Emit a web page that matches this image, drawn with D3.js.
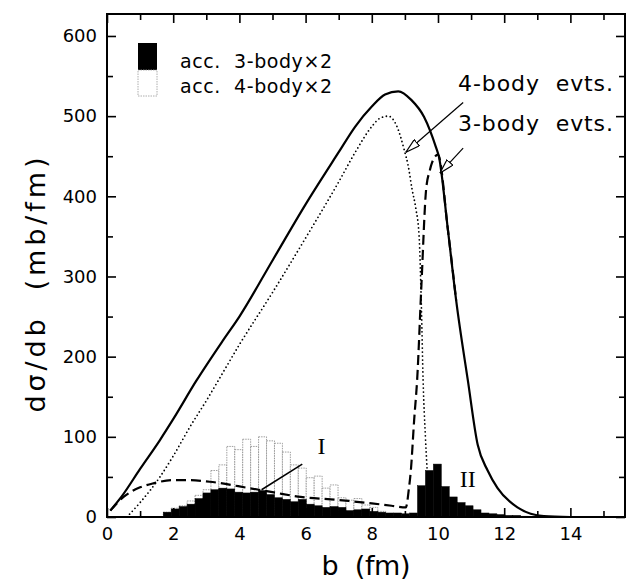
<!DOCTYPE html>
<html>
<head>
<meta charset="utf-8">
<script src="https://cdn.jsdelivr.net/npm/d3@7"></script>
<style>
  body { margin: 0; background: #fff; }
  text { font-family: "DejaVu Sans", "Liberation Sans", sans-serif; fill: #000; }
</style>
</head>
<body>
<div id="chart"></div>
<script>
// curves: [b (fm), dsigma/db (mb/fm)]
const totalCurve = [[0.1,8],[0.45,26],[1.0,60],[1.6,96],[2.0,122],[2.7,170],[3.5,220],[4.0,250],[5.0,320],
  [6.0,390],[7.0,455],[7.5,487],[8.0,512],[8.4,527],[8.8,531],[9.2,520],[9.58,499],[9.94,461],[10.03,449],
  [10.3,358],[10.55,270],[10.9,171],[11.2,90],[11.5,58],[11.8,36],[12.4,12],[12.8,4],[13.2,1],[14.0,0]];

const fourBodyCurve = [[0.6,0],[1.0,18],[1.6,50],[2.0,76],[2.5,112],[3.0,145],[3.33,168],[4.0,215],[5.0,280],
  [6.0,348],[7.0,418],[7.5,455],[8.0,487],[8.23,497],[8.5,500],[8.75,488],[8.98,458],[9.1,438],[9.22,408],
  [9.33,385],[9.43,350],[9.5,260],[9.55,171],[9.62,100],[9.67,60]];

const threeBodyCurve = [[0.1,8],[0.5,25],[1.0,37],[1.4,42],[2.0,46],[2.5,46],[3.1,44],[4.3,36],[5.0,31],
  [5.85,25],[6.76,22],[7.3,20],[8.0,17],[8.6,14],[9.03,12],[9.12,35],[9.18,58],[9.28,121],[9.37,171],
  [9.5,290],[9.64,408],[9.75,432],[9.82,442],[10.0,452],[10.3,358],[10.55,270]];

// accepted-event histograms (x2), equal bins starting at histStart
const histStart = 1.7;
const binWidth = 0.24;
const acc3body = [6,10,13,16,23,30,34,36,35,31,30,31,33,28,24,22,19,22,16,14,12,13,12,8,9,10,7,6,5,5,4,5,
  39,58,66,38,25,18,14,9,5,4,3,2,2,1];
const acc4body = [6,11,14,20,27,34,58,65,88,84,97,88,100,95,92,81,65,61,49,51,36,40,24,21,23,15,12,7,4,2];

const xMajor = [0,2,4,6,8,10,12,14];
const xMinor = [1,3,5,7,9,11,13,15];
const yMajor = [0,100,200,300,400,500,600];
const yMinor = [50,150,250,350,450,550];

const W = 629, H = 588;
const x = d3.scaleLinear().domain([0, 15.65]).range([107, 625]);
const y = d3.scaleLinear().domain([0, 627.4]).range([517, 14]);

const svg = d3.select("#chart").append("svg").attr("width", W).attr("height", H);

// histograms: 4-body (open) under 3-body (filled)
const bins = (vals) => vals.map((v, i) => ({ b0: histStart + i * binWidth, b1: histStart + (i + 1) * binWidth, v }))
  .filter(d => d.v > 0);

svg.append("g").selectAll("rect").data(bins(acc4body)).join("rect")
  .attr("x", d => x(d.b0)).attr("width", d => x(d.b1) - x(d.b0))
  .attr("y", d => y(d.v)).attr("height", d => y(0) - y(d.v))
  .attr("fill", "#fff").attr("stroke", "#888").attr("stroke-width", 0.8).attr("stroke-dasharray", "1.5,1");

svg.append("g").selectAll("rect").data(bins(acc3body)).join("rect")
  .attr("x", d => x(d.b0)).attr("width", d => x(d.b1) - x(d.b0))
  .attr("y", d => y(d.v)).attr("height", d => y(0) - y(d.v))
  .attr("fill", "#000").attr("stroke", "#000").attr("stroke-width", 0.5);

// curves
const line = d3.line().x(d => x(d[0])).y(d => y(d[1])).curve(d3.curveMonotoneX);
svg.append("path").attr("d", line(fourBodyCurve)).attr("fill", "none").attr("stroke", "#000")
  .attr("stroke-width", 1.8).attr("stroke-linecap", "round").attr("stroke-dasharray", "0,4");
svg.append("path").attr("d", line(threeBodyCurve)).attr("fill", "none").attr("stroke", "#000")
  .attr("stroke-width", 2.2).attr("stroke-dasharray", "10,5");
svg.append("path").attr("d", line(totalCurve)).attr("fill", "none").attr("stroke", "#000")
  .attr("stroke-width", 2.2);

// frame + ticks (all inward)
const axisStyle = g => {
  g.select(".domain").remove();
  g.selectAll("line").attr("stroke", "#000").attr("stroke-width", 1.6);
  g.selectAll("text").style("font-size", "18px").attr("fill", "#000");
};
svg.append("g").attr("transform", "translate(0,517)")
  .call(d3.axisBottom(x).tickValues(xMajor).tickSizeInner(-9).tickSizeOuter(0).tickPadding(10)).call(axisStyle);
svg.append("g").attr("transform", "translate(0,517)")
  .call(d3.axisBottom(x).tickValues(xMinor).tickSizeInner(-6).tickSizeOuter(0).tickFormat("")).call(axisStyle);
svg.append("g").attr("transform", "translate(0,14)")
  .call(d3.axisTop(x).tickValues(xMajor).tickSizeInner(-9).tickSizeOuter(0).tickFormat("")).call(axisStyle);
svg.append("g").attr("transform", "translate(0,14)")
  .call(d3.axisTop(x).tickValues(xMinor).tickSizeInner(-6).tickSizeOuter(0).tickFormat("")).call(axisStyle);
svg.append("g").attr("transform", "translate(107,0)")
  .call(d3.axisLeft(y).tickValues(yMajor).tickSizeInner(-9).tickSizeOuter(0).tickPadding(10)).call(axisStyle);
svg.append("g").attr("transform", "translate(107,0)")
  .call(d3.axisLeft(y).tickValues(yMinor).tickSizeInner(-6).tickSizeOuter(0).tickFormat("")).call(axisStyle);
svg.append("g").attr("transform", "translate(625,0)")
  .call(d3.axisRight(y).tickValues(yMajor).tickSizeInner(-9).tickSizeOuter(0).tickFormat("")).call(axisStyle);
svg.append("g").attr("transform", "translate(625,0)")
  .call(d3.axisRight(y).tickValues(yMinor).tickSizeInner(-6).tickSizeOuter(0).tickFormat("")).call(axisStyle);

svg.append("rect").attr("x", 107).attr("y", 14).attr("width", 518).attr("height", 503)
  .attr("fill", "none").attr("stroke", "#000").attr("stroke-width", 2);

// axis titles
svg.append("text").attr("x", 366).attr("y", 575).attr("text-anchor", "middle")
  .style("font-size", "27px").attr("textLength", 89).attr("lengthAdjust", "spacing")
  .attr("xml:space", "preserve").text("b  (fm)");
svg.append("text").attr("transform", "translate(45,285) rotate(-90)").attr("text-anchor", "middle")
  .style("font-size", "27px").attr("textLength", 255).attr("lengthAdjust", "spacing")
  .attr("xml:space", "preserve").text("dσ/db  (mb/fm)");

// legend
svg.append("rect").attr("x", 138).attr("y", 43).attr("width", 19).attr("height", 27).attr("fill", "#000");
svg.append("rect").attr("x", 138).attr("y", 70).attr("width", 19).attr("height", 26)
  .attr("fill", "#fff").attr("stroke", "#999").attr("stroke-width", 0.8).attr("stroke-dasharray", "1.5,1");
svg.append("text").attr("x", 180).attr("y", 68).style("font-size", "19px")
  .attr("textLength", 152).attr("lengthAdjust", "spacing").attr("xml:space", "preserve").text("acc.  3-body×2");
svg.append("text").attr("x", 180).attr("y", 93).style("font-size", "19px")
  .attr("textLength", 152).attr("lengthAdjust", "spacing").attr("xml:space", "preserve").text("acc.  4-body×2");

// annotations
const defs = svg.append("defs");
defs.append("marker").attr("id", "openArrow").attr("viewBox", "0 0 15 9").attr("refX", 15).attr("refY", 4.5)
  .attr("markerUnits", "userSpaceOnUse").attr("markerWidth", 15).attr("markerHeight", 9).attr("orient", "auto")
  .append("path").attr("d", "M0.5,0.5 L15,4.5 L0.5,8.5 Z").attr("fill", "#fff").attr("stroke", "#000").attr("stroke-width", 1.2);

svg.append("text").attr("x", 458).attr("y", 91).style("font-size", "22px")
  .attr("textLength", 155).attr("lengthAdjust", "spacing").attr("xml:space", "preserve").text("4-body  evts.");
svg.append("text").attr("x", 458).attr("y", 131).style("font-size", "22px")
  .attr("textLength", 155).attr("lengthAdjust", "spacing").attr("xml:space", "preserve").text("3-body  evts.");

svg.append("line").attr("x1", x(10.76)).attr("y1", y(517)).attr("x2", x(9.03)).attr("y2", y(455))
  .attr("stroke", "#000").attr("stroke-width", 1.2).attr("marker-end", "url(#openArrow)");
svg.append("line").attr("x1", x(10.76)).attr("y1", y(460)).attr("x2", x(10.06)).attr("y2", y(429))
  .attr("stroke", "#000").attr("stroke-width", 1.2).attr("marker-end", "url(#openArrow)");

// region labels I and II
svg.append("line").attr("x1", x(4.67)).attr("y1", y(34)).attr("x2", x(5.9)).attr("y2", y(66))
  .attr("stroke", "#000").attr("stroke-width", 1.5);
svg.append("text").attr("x", x(6.48)).attr("y", y(79)).attr("text-anchor", "middle")
  .style("font-family", "'Liberation Serif', serif").style("font-size", "24px").text("I");
svg.append("text").attr("x", x(10.9)).attr("y", y(37)).attr("text-anchor", "middle")
  .style("font-family", "'Liberation Serif', serif").style("font-size", "24px").text("II");
</script>
</body>
</html>
